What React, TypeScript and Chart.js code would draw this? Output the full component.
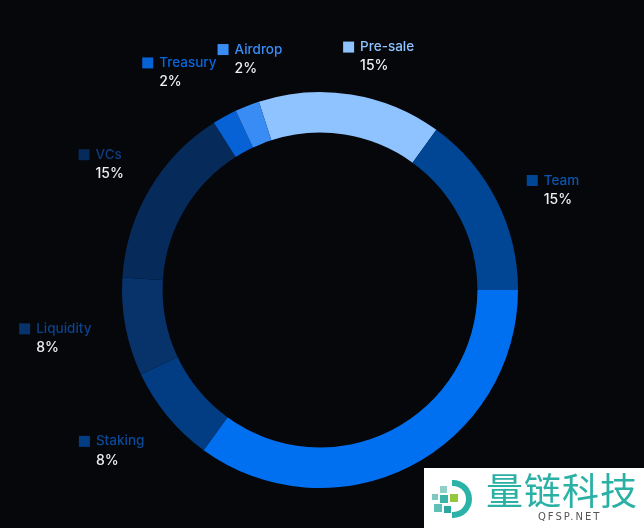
import React, { useEffect, useRef } from "react";
import { Chart, registerables } from "chart.js";

Chart.register(...registerables);

const categories = ["Pre-sale", "Team", "Ecosystem", "Staking", "Liquidity", "VCs", "Treasury", "Airdrop"];
const shares = [15, 15, 35, 8, 8, 15, 2, 2];
const colors = ["#8ec3ff", "#004694", "#0070f0", "#023d84", "#07326a", "#062a59", "#0762d6", "#3a8cf5"];
const textColors = ["#8ec3ff", "#0a55b0", "#0070f0", "#0a4a9a", "#0c4288", "#0d3d80", "#0a66dc", "#3a8cf5"];
const labelVisible = [true, true, false, true, true, true, true, true];

const labelPlugin = {
  id: "outerLabels",
  afterDatasetsDraw(chart: any) {
    const ctx = chart.ctx;
    const meta = chart.getDatasetMeta(0);
    const placed: { l: number; r: number; t: number; b: number }[] = [];
    ctx.save();
    meta.data.forEach((arc: any, i: number) => {
      if (!labelVisible[i]) return;
      const mid = (arc.startAngle + arc.endAngle) / 2;
      const R = arc.outerRadius + 52;
      const ax = arc.x + R * Math.cos(mid);
      const ay = arc.y + R * Math.sin(mid);
      const name = categories[i];
      const pct = shares[i] + "%";
      ctx.font = "500 13.5px Inter, 'Noto Sans', sans-serif";
      const w = 12 + 5 + ctx.measureText(name).width;
      const rightSide = ax > arc.x;
      let left = rightSide ? ax - 16 : ax + 17 - w;
      const y1 = rightSide ? ay + 4 : ay - 8;
      const y2 = y1 + 19;
      const pw = ctx.measureText(pct).width;
      const boxOf = (lx: number) => ({ l: lx, r: lx + Math.max(w, 17 + pw), t: y1 - 8, b: y2 + 8 });
      let box = boxOf(left);
      for (const p of placed) {
        if (box.l < p.r && box.r > p.l && box.t < p.b && box.b > p.t) {
          left = p.r + 1;
          box = boxOf(left);
        }
      }
      placed.push(box);
      ctx.fillStyle = colors[i];
      ctx.fillRect(left, y1 - 5.5, 11, 11);
      ctx.textBaseline = "middle";
      ctx.textAlign = "left";
      ctx.fillStyle = textColors[i];
      ctx.fillText(name, left + 17, y1);
      ctx.font = "500 14px Inter, 'Noto Sans', sans-serif";
      ctx.fillStyle = "#f0f0f0";
      ctx.fillText(pct, left + 17, y2);
    });
    ctx.restore();
  },
};

export default function App() {
  const ref = useRef<HTMLCanvasElement>(null);
  useEffect(() => {
    const chart = new Chart(ref.current!, {
      type: "doughnut",
      data: {
        labels: categories,
        datasets: [
          {
            data: shares,
            backgroundColor: colors,
            borderWidth: 0,
          },
        ],
      },
      options: {
        responsive: false,
        animation: false,
        rotation: -18,
        cutout: "79.5%",
        layout: { padding: { left: 122, right: 126, top: 92, bottom: 40 } },
        plugins: { legend: { display: false }, tooltip: { enabled: false } },
      },
      plugins: [labelPlugin],
    });
    return () => chart.destroy();
  }, []);
  return (
    <div style={{ position: "fixed", left: 0, top: 0, width: 644, height: 528, background: "#05070b", overflow: "hidden" }}>
      <canvas ref={ref} width={644} height={528} style={{ display: "block" }} />
      <div style={{ position: "absolute", left: 424, top: 468, width: 220, height: 60, background: "#ffffff" }}>
        <div style={{ position: "absolute", left: 6, top: 10, width: 40, height: 40 }}>
          <div style={{ position: "absolute", left: 22, top: 2, width: 20, height: 38, border: "6px solid #2bb3a8", borderLeft: "none", borderRadius: "0 20px 20px 0", boxSizing: "border-box" }} />
          <div style={{ position: "absolute", left: 10, top: 8, width: 7, height: 7, background: "#8fd0c8" }} />
          <div style={{ position: "absolute", left: 2, top: 16, width: 6, height: 6, background: "#7fc7c0" }} />
          <div style={{ position: "absolute", left: 10, top: 17, width: 8, height: 8, background: "#3bb5a8" }} />
          <div style={{ position: "absolute", left: 20, top: 16, width: 8, height: 8, background: "#93c83e" }} />
          <div style={{ position: "absolute", left: 4, top: 26, width: 8, height: 8, background: "#5cc0b5" }} />
          <div style={{ position: "absolute", left: 14, top: 28, width: 7, height: 7, background: "#2aa8a0" }} />
        </div>
        <div style={{ position: "absolute", left: 62, top: 0, fontFamily: "'Noto Sans CJK SC', sans-serif", fontSize: 37, lineHeight: "42px", color: "#2bb0a6", letterSpacing: 1 }}>量链科技</div>
        <div style={{ position: "absolute", left: 114, top: 43, fontFamily: "'DejaVu Sans', sans-serif", fontSize: 10, lineHeight: "12px", color: "#555", letterSpacing: 2 }}>QFSP.NET</div>
      </div>
    </div>
  );
}
